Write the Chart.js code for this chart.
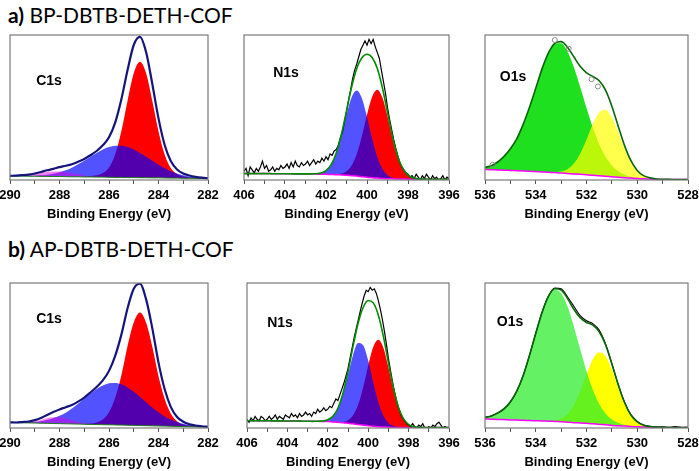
<!DOCTYPE html>
<html>
<head>
<meta charset="utf-8">
<script src="https://cdn.jsdelivr.net/npm/chart.js@4.4.1/dist/chart.umd.min.js"></script>
<style>
  body { margin: 0; width: 699px; height: 471px; overflow: hidden; background: #fff; position: relative; }
  canvas { position: absolute; }
  .title { position: absolute; left: 8px; font-family: Lato, "Open Sans", sans-serif; font-size: 21px; color: #000; white-space: nowrap; }
  .title b { font-weight: 700; }
  .peak { position: absolute; font-family: "Liberation Sans", Arial, sans-serif; font-weight: bold; font-size: 14px; color: #000; transform: translate(-50%, -50%); }
</style>
</head>
<body>
<div class="title" style="top:2px"><b>a)</b> BP-DBTB-DETH-COF</div>
<div class="title" style="top:236px"><b>b)</b> AP-DBTB-DETH-COF</div>

<canvas id="c1sA" width="242" height="196" style="left:-12px;top:27px"></canvas>
<canvas id="n1sA" width="249" height="196" style="left:222px;top:27px"></canvas>
<canvas id="o1sA" width="247" height="196" style="left:463px;top:27px"></canvas>
<canvas id="c1sB" width="242" height="196" style="left:-12px;top:275px"></canvas>
<canvas id="n1sB" width="246" height="196" style="left:225px;top:275px"></canvas>
<canvas id="o1sB" width="247" height="196" style="left:463px;top:275px"></canvas>

<div class="peak" style="left:49px;top:80px">C1s</div>
<div class="peak" style="left:286px;top:72px">N1s</div>
<div class="peak" style="left:513px;top:76px">O1s</div>
<div class="peak" style="left:49px;top:318px">C1s</div>
<div class="peak" style="left:280px;top:322px">N1s</div>
<div class="peak" style="left:510px;top:321px">O1s</div>

<script>
// energy grids (eV)
var c1sEV = [290,289.75,289.5,289.25,289,288.75,288.5,288.25,288,287.75,287.5,287.25,287,286.75,286.5,286.25,286,285.75,285.5,285.25,285,284.75,284.5,284.25,284,283.75,283.5,283.25,283,282.75,282.5,282.25,282];
var n1sEV = [406,405.75,405.5,405.25,405,404.75,404.5,404.25,404,403.75,403.5,403.25,403,402.75,402.5,402.25,402,401.75,401.5,401.25,401,400.75,400.5,400.25,400,399.75,399.5,399.25,399,398.75,398.5,398.25,398,397.75,397.5,397.25,397,396.75,396.5,396.25,396];
var n1sRawEV = [406,405.9,405.8,405.7,405.6,405.5,405.4,405.3,405.2,405.1,
  405,404.9,404.8,404.7,404.6,404.5,404.4,404.3,404.2,404.1,
  404,403.9,403.8,403.7,403.6,403.5,403.4,403.3,403.2,403.1,
  403,402.9,402.8,402.7,402.6,402.5,402.4,402.3,402.2,402.1,
  402,401.9,401.8,401.7,401.6,401.5,401.4,401.3,401.2,401.1,
  401,400.9,400.8,400.7,400.6,400.5,400.4,400.3,400.2,400.1,
  400,399.9,399.8,399.7,399.6,399.5,399.4,399.3,399.2,399.1,
  399,398.9,398.8,398.7,398.6,398.5,398.4,398.3,398.2,398.1,
  398,397.9,397.8,397.7,397.6,397.5,397.4,397.3,397.2,397.1,
  397,396.9,396.8,396.7,396.6,396.5,396.4,396.3,396.2,396.1,396];
var o1sEV = [536,535.75,535.5,535.25,535,534.75,534.5,534.25,534,533.75,533.5,533.25,533,532.75,532.5,532.25,532,531.75,531.5,531.25,531,530.75,530.5,530.25,530,529.75,529.5,529.25,529,528.75,528.5,528.25,528];

// a) C1s  - components and fit are heights above the background
var c1sA_bg   = [2.8,2.7,2.7,2.6,2.6,2.5,2.5,2.4,2.4,2.3,2.2,2.2,2.1,2.1,2.0,2.0,1.9,1.8,1.8,1.7,1.7,1.6,1.6,1.5,1.5,1.4,1.3,1.3,1.2,1.2,1.1,1.1,1.0];
var c1sA_red  = [0,0,0,0,0,0,0,0,0,0,0,0.1,0.3,0.6,1.2,2.8,6.8,16,32,53,72,80,72,53,32,16,6.8,2.8,1.2,0.6,0.3,0.1,0];
var c1sA_blue = [0,0.1,0.1,0.2,0.4,0.7,1.2,1.9,3.0,4.4,6.3,8.6,11.1,13.9,16.6,19.0,20.8,21.8,21.9,21.1,19.4,17.1,14.5,11.7,9.0,6.7,4.8,3.2,2.1,1.3,0.8,0.4,0.2];
var c1sA_pink = [0.1,0.2,0.5,0.9,1.5,2.3,3.0,3.4,3.5,3.1,2.4,1.7,1.0,0.5,0.2,0.1,0,0,0,0,0,0,0,0,0,0,0,0,0,0,0,0,0];
var c1sA_fit  = [0.1,0.3,0.6,1.1,1.9,3.0,4.2,5.3,6.5,7.5,8.7,10.4,12.4,15.0,18.0,21.9,27.6,37.8,53.9,74.1,91.4,97.1,86.5,64.7,41.0,22.7,11.6,6.0,3.3,1.9,1.1,0.5,0.2];

// b) C1s
var c1sB_bg   = [3.8,3.7,3.6,3.5,3.4,3.3,3.2,3.1,3.0,2.9,2.8,2.7,2.6,2.5,2.4,2.3,2.2,2.1,2.0,1.9,1.8,1.7,1.6,1.5,1.4,1.3,1.2,1.1,1.0,0.9,0.8,0.7,0.6];
var c1sB_red  = [0,0,0,0,0,0,0,0,0,0,0,0.1,0.2,0.6,1.4,3.5,8.6,18.7,34.3,54.6,71,78,71,54.6,34.3,18.7,8.6,3.5,1.4,0.6,0.2,0.1,0];
var c1sB_blue = [0.1,0.1,0.3,0.5,0.8,1.4,2.3,3.6,5.4,7.7,10.6,14.0,17.6,21.2,24.5,27.0,28.6,29.0,28.1,26.1,23.2,19.8,16.1,12.6,9.4,6.7,4.6,3.0,1.9,1.1,0.7,0.4,0.2];
var c1sB_pink = [0,0,0.2,0.5,1.2,2.2,3.5,4.3,4.4,3.7,2.5,1.4,0.6,0.2,0,0,0,0,0,0,0,0,0,0,0,0,0,0,0,0,0,0,0];
var c1sB_fit  = [0.1,0.1,0.5,1.0,2.0,3.6,5.8,7.9,9.8,11.4,13.1,15.5,18.4,22.0,25.9,30.5,37.2,47.7,62.4,80.7,94.2,97.8,87.1,67.2,43.7,25.4,13.2,6.5,3.3,1.7,0.9,0.5,0.2];

// a) N1s
var n1sA_bg   = [4.4,4.4,4.4,4.4,4.4,4.4,4.3,4.3,4.3,4.3,4.2,4.2,4.2,4.1,4.1,4.0,3.9,3.8,3.7,3.5,3.3,3.0,2.7,2.3,1.9,1.6,1.3,1.0,0.9,0.8,0.7,0.7,0.6,0.6,0.6,0.6,0.5,0.5,0.5,0.5,0.5];
var n1sA_blue = [0,0,0,0,0,0,0,0,0,0,0,0,0,0.1,0.2,0.8,2.6,6.7,14.7,27.0,41.7,54.1,59,54.1,41.7,27.0,14.7,6.7,2.6,0.8,0.2,0.1,0,0,0,0,0,0,0,0,0];
var n1sA_red  = [0,0,0,0,0,0,0,0,0,0,0,0,0,0,0,0,0,0.1,0.2,0.9,2.7,7.0,15.2,27.9,43.1,55.9,61,55.9,43.1,27.9,15.2,7.0,2.7,0.9,0.2,0.1,0,0,0,0,0];
var n1sA_fit  = [0,0,0,0,0,0,0,0,0,0,0,0,0,0.1,0.2,0.8,2.6,6.8,14.9,27.9,44.4,61.1,74.2,82.0,84.8,82.9,75.7,62.6,45.7,28.7,15.4,7.1,2.7,0.9,0.2,0.1,0,0,0,0,0];
var n1sA_raw  = [6,8,3,9,7,5,8,6,9,13, 8,10,6,7,9,6,8,7,10,8, 9,11,8,12,9,13,10,9,12,10,
  11,13,10,12,14,11,13,12,15,13, 16,14,18,17,20,21,24,29,33,40, 47,55,62,70,76,80,85,90,93,96,
  93,97,94,97,92,88,84,76,68,60, 50,42,35,28,22,17,12,9,7,5, 4,2,3,1,4,2,0,3,1,4, 2,0,3,1,2,-1,1,3,0,2, 1];

// b) N1s
var n1sB_bg   = [5.0,5.0,5.0,5.0,5.0,4.9,4.9,4.9,4.8,4.8,4.8,4.7,4.7,4.6,4.6,4.5,4.4,4.2,4.0,3.7,3.3,2.9,2.4,2.0,1.6,1.2,0.9,0.7,0.5,0.4,0.3,0.3,0.3,0.3,0.3,0.3,0.3,0.3,0.3,0.3,0.3];
var n1sB_blue = [0,0,0,0,0,0,0,0,0,0,0,0,0,0,0.1,0.3,1.3,3.8,9.4,19.5,33.4,47.5,56.2,55.1,44.9,30.4,17.1,8.0,3.1,1.0,0.3,0.1,0,0,0,0,0,0,0,0,0];
var n1sB_red  = [0,0,0,0,0,0,0,0,0,0,0,0,0,0,0,0,0,0,0.2,0.6,2.1,5.9,13.6,26.0,41.4,54.7,60,54.7,41.4,26.0,13.6,5.9,2.1,0.6,0.2,0,0,0,0,0,0];
var n1sB_fit  = [0,0,0,0,0,0,0,0,0,0,0,0,0,0,0.1,0.3,1.3,3.8,9.6,20.1,35.5,53.4,69.8,81.1,86.3,85.1,77.1,62.7,44.5,27.0,13.9,6.0,2.1,0.6,0.2,0,0,0,0,0,0];
var n1sB_raw  = [6,4,7,5,8,6,5,8,7,5, 6,8,6,7,9,6,8,7,6,9, 8,7,10,8,9,7,10,8,9,11,
  9,10,8,11,10,13,11,12,14,12, 13,15,14,17,20,19,23,27,31,36, 41,48,55,62,68,74,80,86,91,95,
  94,97,95,96,93,88,82,75,67,58, 48,40,32,25,19,14,10,7,5,3, 2,1,3,1,0,2,1,3,0,-2, 1,0,2,1,3,4,2,0,1,0, 0];

// a) O1s
var o1sA_bg     = [7.2,7.1,6.9,6.8,6.6,6.4,6.2,6.0,5.8,5.6,5.3,5.1,4.8,4.5,4.2,3.9,3.6,3.3,2.9,2.6,2.2,1.9,1.6,1.3,1.0,0.8,0.7,0.5,0.4,0.4,0.3,0.3,0.3];
var o1sA_green  = [1.5,2.8,5.5,9.5,15,22,32,44,57.4,71.2,82.4,88.9,89.5,84.1,73.7,60.3,46.0,32.8,21.8,13.5,7.8,4.2,2.1,1.0,0.5,0.2,0.1,0,0,0,0,0,0];
var o1sA_yellow = [0,0,0,0,0,0,0,0,0,0,0,0.3,1.1,3.0,7.1,14.2,24.3,35.3,43.7,45.9,40.9,31.0,20.0,11.0,5.1,2.0,0.7,0.2,0,0,0,0,0];
var o1sA_fit    = [1.5,2.8,5.5,9.5,15,22,32,44,57.4,71.2,82.4,89.2,90.6,87.1,80.8,74.5,70.3,68.1,65.5,59.4,48.7,35.2,22.1,12.0,5.6,2.2,0.8,0.2,0,0,0,0,0];
var o1sA_rawEV  = [535.7,533.25,532.7,531.8,531.55];
var o1sA_raw    = [10.5,96.5,90.5,69.5,64.5];

// b) O1s
var o1sB_bg     = [6.2,6.1,5.9,5.8,5.6,5.5,5.3,5.2,5.0,4.8,4.7,4.5,4.3,4.0,3.7,3.5,3.2,2.9,2.5,2.2,1.8,1.5,1.3,1.0,0.8,0.7,0.6,0.5,0.4,0.4,0.3,0.3,0.3];
var o1sB_green  = [1.0,2.2,4.5,7.5,12.5,20,30.6,44.7,60.2,74.9,85.9,90.8,88.7,79.9,66.3,50.9,35.9,23.5,14.1,7.8,4.0,1.9,0.8,0.3,0.1,0,0,0,0,0,0,0,0];
var o1sB_yellow = [0,0,0,0,0,0,0,0,0,0,0.2,0.7,2.2,5.5,11.9,21.7,33.7,44.5,49.8,47.5,38.4,26.5,15.5,7.7,3.3,1.2,0.4,0.1,0,0,0,0,0];
var o1sB_fit    = [1.0,2.2,4.5,7.5,12.5,20,30.6,44.7,60.2,74.9,86.1,91.5,90.9,85.4,78.2,72.6,69.6,68.0,63.9,55.3,42.4,28.4,16.3,8.0,3.4,1.2,0.4,0.1,0,0,0,0,0];
var o1sB_raw    = [7.5,8.3,10.3,13,17.8,25.4,36,50,65.5,80,91,96.5,96,90.5,84,77.5,74,72,67.5,58,44.5,30,17.8,9.2,4.6,2.0,1.2,0.6,0.8,0.2,1.0,0.3,0.5];

var tickFont = { family: '"Liberation Sans", Arial, sans-serif', size: 13, weight: 'bold', lineHeight: 1 };

function pts(ev, vals, bg) {
  return vals.map(function (v, i) { return { x: ev[i], y: bg ? v + bg[i] : v }; });
}

function area(ev, vals, bg, color, order) {
  return { data: pts(ev, vals, bg), fill: 0, backgroundColor: color, borderColor: 'rgba(0,0,0,0)',
           borderWidth: 0, pointRadius: 0, cubicInterpolationMode: 'monotone', order: order };
}

function curve(data, color, width, order, smooth) {
  return { data: data, fill: false, borderColor: color, borderWidth: width, pointRadius: 0,
           cubicInterpolationMode: smooth ? 'monotone' : 'default', tension: 0, order: order };
}

// grey frame round the plot area
var frame = {
  id: 'frame',
  afterDraw: function (chart) {
    var a = chart.chartArea, c = chart.ctx;
    c.save();
    c.strokeStyle = '#7a7a7a';
    c.lineWidth = 1.2;
    c.strokeRect(a.left, a.top, a.right - a.left, a.bottom - a.top);
    c.restore();
  }
};

function panel(id, lo, hi, datasets) {
  new Chart(document.getElementById(id).getContext('2d'), {
    type: 'line',
    data: { datasets: datasets },
    plugins: [frame],
    options: {
      responsive: false,
      animation: false,
      events: [],
      layout: { padding: { left: 22, right: 22, top: 8, bottom: 2 } },
      plugins: { legend: { display: false }, tooltip: { enabled: false } },
      scales: {
        x: {
          type: 'linear', reverse: true, min: lo, max: hi,
          ticks: { stepSize: 1, autoSkip: false, maxRotation: 0, padding: 5, color: '#000', font: tickFont,
                   callback: function (v) { return v % 2 === 0 ? v : ''; } },
          grid: { drawOnChartArea: false, drawTicks: true, tickLength: 4, color: '#555' },
          border: { display: false },
          title: { display: true, text: 'Binding Energy (eV)', color: '#000', font: tickFont, padding: { top: 1, bottom: 0 } }
        },
        y: { display: false, min: 0, max: 100 }
      }
    }
  });
}

// C1s panels
panel('c1sA', 282, 290, [
  curve(pts(c1sEV, c1sA_bg), '#1a7a1a', 1, 3, true),
  area(c1sEV, c1sA_red, c1sA_bg, '#ff0000', 8),
  area(c1sEV, c1sA_blue, c1sA_bg, 'rgba(0,0,255,0.68)', 7),
  area(c1sEV, c1sA_pink, c1sA_bg, 'rgba(225,0,225,0.5)', 6),
  curve(pts(c1sEV, c1sA_fit, c1sA_bg), '#14147a', 2.2, 1, true)
]);
panel('c1sB', 282, 290, [
  curve(pts(c1sEV, c1sB_bg), '#1a7a1a', 1, 3, true),
  area(c1sEV, c1sB_red, c1sB_bg, '#ff0000', 8),
  area(c1sEV, c1sB_blue, c1sB_bg, 'rgba(0,0,255,0.68)', 7),
  area(c1sEV, c1sB_pink, c1sB_bg, 'rgba(225,0,225,0.5)', 6),
  curve(pts(c1sEV, c1sB_fit, c1sB_bg), '#14147a', 2.2, 1, true)
]);

// N1s panels
panel('n1sA', 396, 406, [
  curve(pts(n1sEV, n1sA_bg), '#ff00ff', 1.5, 3, true),
  area(n1sEV, n1sA_red, n1sA_bg, '#ff0000', 8),
  area(n1sEV, n1sA_blue, n1sA_bg, 'rgba(0,0,255,0.68)', 7),
  curve(pts(n1sRawEV, n1sA_raw), '#000', 1.2, 2, false),
  curve(pts(n1sEV, n1sA_fit, n1sA_bg), '#008c00', 1.6, 1, true)
]);
panel('n1sB', 396, 406, [
  curve(pts(n1sEV, n1sB_bg), '#ff00ff', 1.5, 3, true),
  area(n1sEV, n1sB_red, n1sB_bg, '#ff0000', 8),
  area(n1sEV, n1sB_blue, n1sB_bg, 'rgba(0,0,255,0.68)', 7),
  curve(pts(n1sRawEV, n1sB_raw), '#000', 1.2, 2, false),
  curve(pts(n1sEV, n1sB_fit, n1sB_bg), '#008c00', 1.6, 1, true)
]);

// O1s panels
var rawA = curve(pts(o1sA_rawEV, o1sA_raw), '#8a8a8a', 1, 0, false);
rawA.showLine = false;
rawA.pointRadius = 2.5;
rawA.pointBackgroundColor = 'rgba(255,255,255,0)';
rawA.pointBorderColor = '#8a8a8a';
panel('o1sA', 528, 536, [
  curve(pts(o1sEV, o1sA_bg), '#ff00ff', 1.5, 3, true),
  area(o1sEV, o1sA_green, o1sA_bg, '#1ee01e', 8),
  area(o1sEV, o1sA_yellow, o1sA_bg, 'rgba(255,255,0,0.7)', 7),
  curve(pts(o1sEV, o1sA_fit, o1sA_bg), '#0a640a', 1.6, 1, true),
  rawA
]);
panel('o1sB', 528, 536, [
  curve(pts(o1sEV, o1sB_bg), '#ff00ff', 1.5, 3, true),
  area(o1sEV, o1sB_yellow, o1sB_bg, '#ffff00', 8),
  area(o1sEV, o1sB_green, o1sB_bg, 'rgba(40,235,40,0.72)', 7),
  curve(pts(o1sEV, o1sB_raw), '#000', 1.1, 2, true),
  curve(pts(o1sEV, o1sB_fit, o1sB_bg), '#0a640a', 1.6, 1, true)
]);
</script>
</body>
</html>
